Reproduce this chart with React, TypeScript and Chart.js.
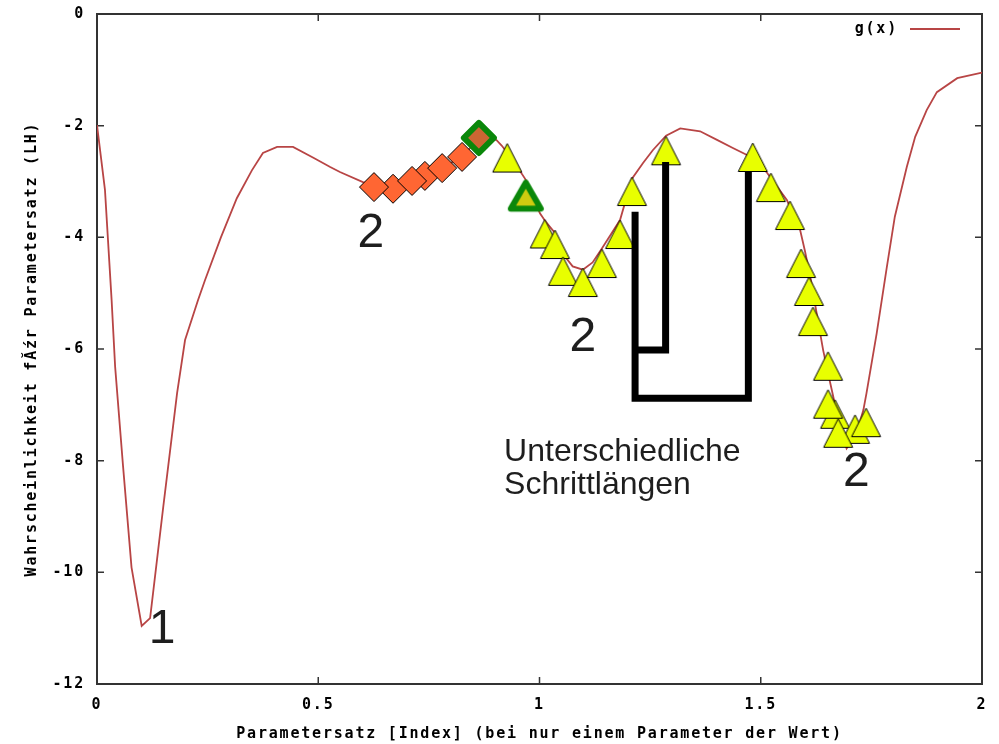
import { useEffect, useRef } from "react";
import { Chart, registerables } from "chart.js";

Chart.register(...registerables);

// g(x): likelihood over the parameter value
const curveX = [
  0, 0.018, 0.033, 0.041, 0.059, 0.078, 0.101, 0.12, 0.15, 0.181, 0.199, 0.228, 0.244, 0.28, 0.316,
  0.35, 0.375, 0.407, 0.443, 0.49, 0.527, 0.549, 0.601, 0.64, 0.68, 0.72, 0.76, 0.8, 0.835, 0.865,
  0.885, 0.903, 0.915, 0.94, 0.969, 1.001, 1.012, 1.035, 1.053, 1.075, 1.098, 1.12, 1.141, 1.182,
  1.209, 1.234, 1.256, 1.286, 1.318, 1.363, 1.4, 1.437, 1.47, 1.513, 1.559, 1.589, 1.6, 1.613,
  1.625, 1.641, 1.657, 1.675, 1.694, 1.715, 1.732, 1.739, 1.762, 1.785, 1.803, 1.83, 1.849, 1.875,
  1.898, 1.944, 2.0,
];
const curveY = [
  -1.99, -3.15, -5.12, -6.32, -8.11, -9.91, -10.96, -10.82, -8.81, -6.79, -5.84, -5.13, -4.77, -4.0,
  -3.3, -2.8, -2.49, -2.38, -2.38, -2.58, -2.74, -2.83, -3.01, -3.1, -3.08, -2.97, -2.84, -2.67,
  -2.47, -2.22, -2.18, -2.26, -2.36, -2.62, -2.97, -3.57, -3.7, -3.92, -4.3, -4.52, -4.58, -4.45,
  -4.2, -3.69, -2.95, -2.67, -2.44, -2.18, -2.05, -2.1, -2.25, -2.4, -2.53, -2.83, -3.33, -3.87,
  -4.25, -4.75, -5.3, -6.02, -6.61, -7.25, -7.78, -7.55, -7.09, -6.79, -5.72, -4.53, -3.63, -2.74,
  -2.2, -1.72, -1.4, -1.15, -1.05,
];

// first search run (diamonds), listed back to front
const runAX = [0.741, 0.669, 0.626, 0.712, 0.78, 0.825];
const runAY = [-2.9, -3.13, -3.1, -2.99, -2.76, -2.56];
const runAStartX = [0.863];
const runAStartY = [-2.22];

// second search run (triangles), listed back to front
const runBX = [
  0.927, 1.012, 1.035, 1.053, 1.098, 1.141, 1.182, 1.209, 1.286, 1.482, 1.523, 1.566, 1.591, 1.609,
  1.618, 1.652, 1.668, 1.713, 1.652, 1.675, 1.738,
];
const runBY = [
  -2.66, -4.02, -4.21, -4.69, -4.89, -4.55, -4.03, -3.26, -2.53, -2.65, -3.19, -3.69, -4.55, -5.05,
  -5.59, -6.39, -7.25, -7.52, -7.07, -7.59, -7.4,
];
const runBStartX = [0.969];
const runBStartY = [-3.33];

// step-length brackets
const bracketOuterX = [1.216, 1.216, 1.472, 1.472];
const bracketOuterY = [-3.54, -6.88, -6.88, -2.82];
const bracketInnerX = [1.216, 1.285, 1.285];
const bracketInnerY = [-6.02, -6.02, -2.65];

// labels
const noteTexts = ["1", "2", "2", "2"];
const noteX = [0.147, 0.619, 1.098, 1.716];
const noteY = [-11.27, -4.17, -6.04, -8.45];
const captionLines = ["Unterschiedliche", "Schrittlängen"];
const captionX = [0.92, 0.92];
const captionY = [-8.0, -8.6];

const xTickLabels = ["0", "0.5", "1", "1.5", "2"];
const yTickLabels = ["-12", "-10", "-8", "-6", "-4", "-2", "0"];
const xTitle = "Parametersatz [Index] (bei nur einem Parameter der Wert)";
const yTitle = "Wahrscheinlichkeit fĂźr Parametersatz (LH)";
const legendLabel = "g(x)";

const pts = (xs: number[], ys: number[]) => xs.map((x, i) => ({ x, y: ys[i] }));

const CURVE = "#b84545";
const MONO = '"DejaVu Sans Mono", monospace';
const SANS = '"Liberation Sans", Arial, sans-serif';

// Upward triangle marker whose centroid sits at the image centre.
function triangleMarker(w: number, h: number, fill: string, stroke: string, lw: number) {
  const pad = lw + 2;
  const cw = Math.ceil(w + 2 * pad);
  const ch = Math.ceil(2 * ((2 / 3) * h + pad));
  const c = document.createElement("canvas");
  c.width = cw;
  c.height = ch;
  const g = c.getContext("2d")!;
  const cx = cw / 2;
  const cy = ch / 2;
  g.beginPath();
  g.moveTo(cx, cy - (2 / 3) * h);
  g.lineTo(cx + w / 2, cy + h / 3);
  g.lineTo(cx - w / 2, cy + h / 3);
  g.closePath();
  g.fillStyle = fill;
  g.fill();
  g.lineJoin = "round";
  g.lineWidth = lw;
  g.strokeStyle = stroke;
  g.stroke();
  return c;
}

const decorPlugin = {
  id: "decor",
  beforeDraw(chart: any) {
    chart.ctx.letterSpacing = "1.8px";
  },
  beforeDatasetsDraw(chart: any) {
    const { ctx, chartArea: a, scales } = chart;
    ctx.save();
    ctx.strokeStyle = "#333";
    ctx.lineWidth = 1.5;
    ctx.beginPath();
    for (const t of scales.x.ticks) {
      const px = scales.x.getPixelForValue(t.value);
      ctx.moveTo(px, a.bottom);
      ctx.lineTo(px, a.bottom - 7);
      ctx.moveTo(px, a.top);
      ctx.lineTo(px, a.top + 7);
    }
    for (const t of scales.y.ticks) {
      const py = scales.y.getPixelForValue(t.value);
      ctx.moveTo(a.left, py);
      ctx.lineTo(a.left + 7, py);
      ctx.moveTo(a.right, py);
      ctx.lineTo(a.right - 7, py);
    }
    ctx.stroke();
    ctx.lineWidth = 2;
    ctx.strokeRect(a.left, a.top, a.right - a.left, a.bottom - a.top);
    ctx.restore();
    ctx.lineJoin = "round";
  },
  afterDraw(chart: any) {
    const { ctx, chartArea: a, scales } = chart;
    ctx.save();
    // legend
    ctx.letterSpacing = "1.8px";
    ctx.font = `bold 15px ${MONO}`;
    ctx.fillStyle = "#000";
    ctx.textAlign = "right";
    ctx.textBaseline = "middle";
    ctx.fillText(legendLabel, a.right - 84, a.top + 15);
    ctx.strokeStyle = CURVE;
    ctx.lineWidth = 1.8;
    ctx.beginPath();
    ctx.moveTo(a.right - 72, a.top + 15);
    ctx.lineTo(a.right - 22, a.top + 15);
    ctx.stroke();

    // notes
    ctx.letterSpacing = "0px";
    ctx.fillStyle = "#1e1e1e";
    ctx.textBaseline = "alphabetic";
    ctx.textAlign = "center";
    ctx.font = `48px ${SANS}`;
    noteTexts.forEach((t, i) => {
      ctx.fillText(t, scales.x.getPixelForValue(noteX[i]), scales.y.getPixelForValue(noteY[i]));
    });
    ctx.textAlign = "left";
    ctx.font = `32px ${SANS}`;
    captionLines.forEach((t, i) => {
      ctx.fillText(t, scales.x.getPixelForValue(captionX[i]), scales.y.getPixelForValue(captionY[i]));
    });
    ctx.restore();
  },
};

export default function App() {
  const ref = useRef<HTMLCanvasElement | null>(null);

  useEffect(() => {
    if (!ref.current) return;
    const tickFont = { family: MONO, size: 15, weight: "bold" as const };
    const yellowTri = triangleMarker(29, 28.5, "#e8ff00", "#000", 1);
    const greenTri = triangleMarker(30, 26, "#cfcc10", "#0a870a", 6);
    const chart = new Chart(ref.current, {
      type: "scatter",
      data: {
        datasets: [
          {
            label: "start B",
            data: pts(runBStartX, runBStartY),
            pointStyle: greenTri,
            pointRadius: 18,
          },
          {
            label: "start A",
            data: pts(runAStartX, runAStartY),
            pointStyle: "rectRot",
            pointRadius: 15,
            backgroundColor: "#cc6633",
            borderColor: "#0a870a",
            borderWidth: 6,
          },
          {
            label: "bracket inner",
            data: pts(bracketInnerX, bracketInnerY),
            showLine: true,
            borderColor: "#000",
            borderWidth: 7,
            borderJoinStyle: "miter",
            borderCapStyle: "butt",
            pointRadius: 0,
          },
          {
            label: "bracket outer",
            data: pts(bracketOuterX, bracketOuterY),
            showLine: true,
            borderColor: "#000",
            borderWidth: 7,
            borderJoinStyle: "miter",
            borderCapStyle: "butt",
            pointRadius: 0,
          },
          {
            label: "run B",
            data: pts(runBX, runBY),
            pointStyle: yellowTri,
            pointRadius: 15,
          },
          {
            label: "run A",
            data: pts(runAX, runAY),
            pointStyle: "rectRot",
            pointRadius: 14.5,
            backgroundColor: "#ff6633",
            borderColor: "#000",
            borderWidth: 1,
          },
          {
            label: legendLabel,
            data: pts(curveX, curveY),
            showLine: true,
            borderColor: CURVE,
            borderWidth: 1.8,
            tension: 0,
            pointRadius: 0,
          },
        ],
      },
      options: {
        animation: false,
        responsive: true,
        maintainAspectRatio: false,
        layout: { autoPadding: false, padding: { left: 0, top: 14, right: 17, bottom: 0 } },
        plugins: { legend: { display: false }, tooltip: { enabled: false } },
        events: [],
        scales: {
          x: {
            type: "linear",
            min: 0,
            max: 2,
            grid: { display: false, drawTicks: false },
            border: { display: false },
            ticks: {
              stepSize: 0.5,
              padding: 12,
              color: "#000",
              font: tickFont,
              maxRotation: 0,
              callback: (_v: any, i: number) => xTickLabels[i],
            },
            title: {
              display: true,
              text: xTitle,
              color: "#000",
              font: tickFont,
              padding: { top: 0, bottom: 1 },
            },
            afterFit: (s: any) => {
              s.height = 60;
              s.paddingLeft = 0;
              s.paddingRight = 0;
            },
          },
          y: {
            type: "linear",
            min: -12,
            max: 0,
            grid: { display: false, drawTicks: false },
            border: { display: false },
            ticks: {
              stepSize: 2,
              padding: 12,
              color: "#000",
              font: tickFont,
              callback: (_v: any, i: number) => yTickLabels[i],
            },
            title: {
              display: true,
              text: yTitle,
              color: "#000",
              font: tickFont,
              padding: { top: 23, bottom: 0 },
            },
            afterFit: (s: any) => {
              s.width = 97;
              s.paddingTop = 0;
              s.paddingBottom = 0;
            },
          },
        },
      },
      plugins: [decorPlugin],
    });
    return () => chart.destroy();
  }, []);

  return (
    <div style={{ position: "fixed", left: 0, top: 0, width: 999, height: 744, background: "#fff" }}>
      <canvas ref={ref} />
    </div>
  );
}
